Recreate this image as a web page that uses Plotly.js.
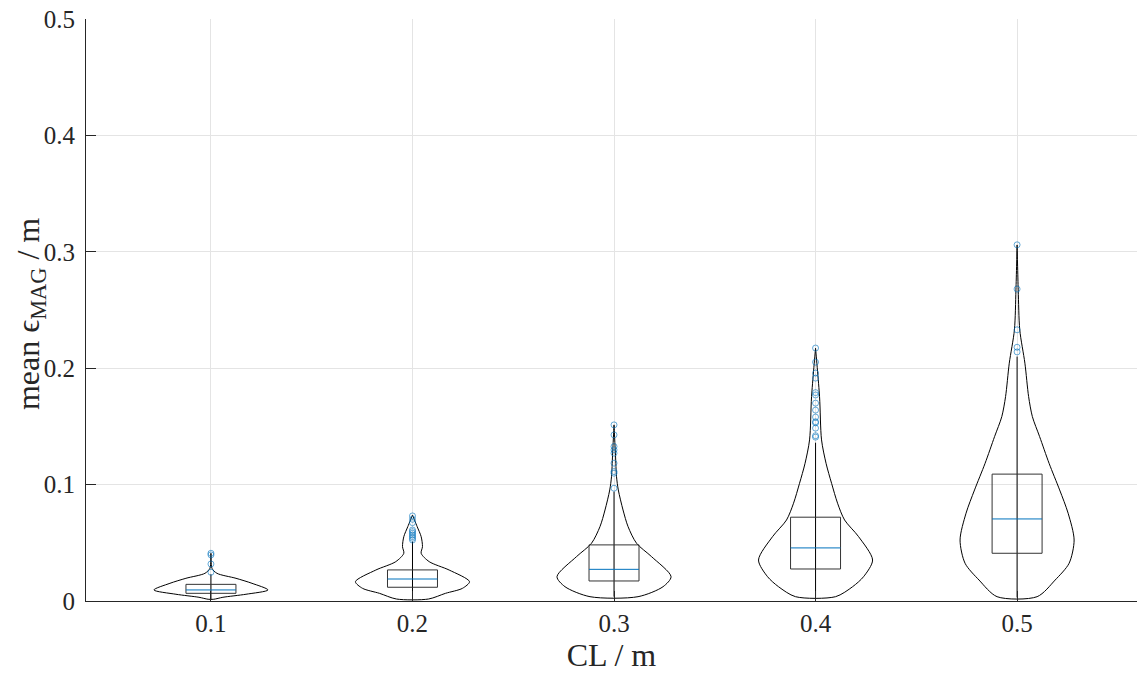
<!DOCTYPE html>
<html>
<head>
<meta charset="utf-8">
<script src="https://cdn.plot.ly/plotly-3.0.1.min.js"></script>
<style>html,body{margin:0;padding:0;background:#fff;}#chart{width:1137px;height:675px;}</style>
</head>
<body>
<div id="chart"></div>
<script>
// ---- data ----
const categories = [0.1, 0.2, 0.3, 0.4, 0.5];
const tickLabelsX = ['0.1', '0.2', '0.3', '0.4', '0.5'];
const yTickVals = [0, 0.1, 0.2, 0.3, 0.4, 0.5];
const yTickLabels = ['0', '0.1', '0.2', '0.3', '0.4', '0.5'];
const xTitle = 'CL / m';
const yTitle = 'mean ϵ<sub>MAG</sub> / m';

// violin outlines: y values (ascending) and relative half-width (1 = widest)
const violin1Y = [0.0015, 0.0032, 0.0058, 0.0095, 0.0152, 0.0195, 0.0238, 0.0281, 0.041];
const violin1W = [0.05, 0.21, 0.614, 1.0, 0.719, 0.439, 0.105, 0.018, 0.0];
const violin2Y = [0.0017, 0.0066, 0.0109, 0.0166, 0.0266, 0.0338, 0.041, 0.0467, 0.0553, 0.0639, 0.0739];
const violin2W = [0.281, 0.579, 0.877, 1.0, 0.643, 0.293, 0.152, 0.175, 0.152, 0.082, 0.0];
const violin3Y = [0.0037, 0.0123, 0.0209, 0.0381, 0.0496, 0.0639, 0.0782, 0.0954, 0.1068, 0.125, 0.1513];
const violin3W = [0.421, 0.86, 1.0, 0.658, 0.395, 0.246, 0.158, 0.075, 0.044, 0.026, 0.0];
const violin4Y = [0.0037, 0.0123, 0.0209, 0.0352, 0.0553, 0.0696, 0.084, 0.1011, 0.1183, 0.1384, 0.1756, 0.2172];
const violin4W = [0.351, 0.65, 0.842, 1.0, 0.754, 0.509, 0.386, 0.281, 0.184, 0.105, 0.07, 0.0];
const violin5Y = [0.0037, 0.018, 0.0324, 0.0524, 0.0754, 0.0954, 0.1183, 0.1412, 0.1584, 0.1756, 0.2043, 0.2329, 0.2673, 0.3059];
const violin5W = [0.351, 0.667, 0.912, 1.0, 0.895, 0.746, 0.561, 0.395, 0.268, 0.202, 0.137, 0.047, 0.02, 0.0];

// box statistics
const boxLow    = [0.0015, 0.0017, 0.0037, 0.0037, 0.0030];
const boxQ1     = [0.0066, 0.0118, 0.0172, 0.0275, 0.0410];
const boxMedian = [0.0095, 0.0189, 0.0272, 0.0456, 0.0705];
const boxQ3     = [0.0143, 0.0267, 0.0482, 0.0720, 0.1090];
const boxHigh   = [0.0230, 0.0510, 0.0940, 0.1360, 0.2100];

// outliers
const outliers1 = [0.041, 0.0396, 0.0318, 0.0247];
const outliers2 = [0.0731, 0.0702, 0.0673, 0.061, 0.0596, 0.0582, 0.0567, 0.0553, 0.0539, 0.0524];
const outliers3 = [0.1513, 0.1427, 0.1327, 0.1298, 0.127, 0.1184, 0.1112, 0.1098, 0.0969];
const outliers4 = [0.2173, 0.2052, 0.1958, 0.1915, 0.179, 0.177, 0.170, 0.164, 0.158, 0.154, 0.153, 0.1485, 0.142, 0.1408];
const outliers5 = [0.306, 0.268, 0.233, 0.218, 0.214];

// ---- styling ----
const VIOLIN_HALF = 0.0283;   // x-units
const BOX_HALF = 0.0124;      // x-units
const FONT = 'Liberation Serif, DejaVu Serif, serif';
const AX = '#262626';

const violinsY = [violin1Y, violin2Y, violin3Y, violin4Y, violin5Y];
const violinsW = [violin1W, violin2W, violin3W, violin4W, violin5W];
const outliers = [outliers1, outliers2, outliers3, outliers4, outliers5];

const traces = [];
categories.forEach((c, i) => {
  const ys = violinsY[i], ws = violinsW[i];
  const px = [], py = [];
  for (let k = 0; k < ys.length; k++) { px.push(c + ws[k] * VIOLIN_HALF); py.push(ys[k]); }
  for (let k = ys.length - 1; k >= 0; k--) { px.push(c - ws[k] * VIOLIN_HALF); py.push(ys[k]); }
  px.push(px[0]); py.push(py[0]);
  traces.push({type: 'scatter', mode: 'lines', x: px, y: py,
    line: {color: '#000000', width: 1, shape: 'spline', smoothing: 0.8},
    hoverinfo: 'skip', showlegend: false});
  traces.push({type: 'scatter', mode: 'lines', x: [c, c], y: [boxLow[i], boxHigh[i]],
    line: {color: '#000000', width: 1}, hoverinfo: 'skip', showlegend: false});
  traces.push({type: 'scatter', mode: 'lines',
    x: [c - BOX_HALF, c + BOX_HALF, c + BOX_HALF, c - BOX_HALF, c - BOX_HALF],
    y: [boxQ1[i], boxQ1[i], boxQ3[i], boxQ3[i], boxQ1[i]],
    line: {color: '#333333', width: 1}, hoverinfo: 'skip', showlegend: false});
  traces.push({type: 'scatter', mode: 'lines',
    x: [c - BOX_HALF, c + BOX_HALF], y: [boxMedian[i], boxMedian[i]],
    line: {color: '#0072BD', width: 1}, hoverinfo: 'skip', showlegend: false});
  traces.push({type: 'scatter', mode: 'markers',
    x: outliers[i].map(() => c), y: outliers[i],
    marker: {symbol: 'circle-open', size: 6, color: 'rgba(0,114,189,0.6)', line: {width: 1}},
    hoverinfo: 'skip', showlegend: false});
});

const layout = {
  width: 1137, height: 675,
  margin: {l: 86, r: 0, t: 19, b: 74, pad: 0},
  paper_bgcolor: '#ffffff', plot_bgcolor: '#ffffff',
  font: {family: FONT, color: AX, size: 25},
  showlegend: false,
  xaxis: {
    range: [0.038, 0.5595],
    tickmode: 'array', tickvals: categories, ticktext: tickLabelsX,
    ticks: 'inside', ticklen: 10, tickwidth: 1, tickcolor: AX,
    showline: true, linecolor: AX, linewidth: 1, mirror: false,
    showgrid: true, gridcolor: '#e4e4e4', gridwidth: 1, zeroline: false,
    tickfont: {family: FONT, size: 25, color: AX},
    ticklabelstandoff: 0,
    title: {text: xTitle, font: {family: FONT, size: 32, color: AX}, standoff: 2},
    automargin: false
  },
  yaxis: {
    range: [0, 0.5],
    tickmode: 'array', tickvals: yTickVals, ticktext: yTickLabels,
    ticks: 'inside', ticklen: 10, tickwidth: 1, tickcolor: AX,
    showline: true, linecolor: AX, linewidth: 1, mirror: false,
    showgrid: true, gridcolor: '#e4e4e4', gridwidth: 1, zeroline: false,
    tickfont: {family: FONT, size: 25, color: AX},
    ticklabelstandoff: 5,
    automargin: false
  },
  annotations: [{
    text: yTitle, xref: 'paper', yref: 'paper', x: -0.0533, y: 0.493,
    xanchor: 'center', yanchor: 'middle', textangle: -90, showarrow: false,
    font: {family: FONT, size: 32, color: AX}
  }]
};

Plotly.newPlot('chart', traces, layout, {staticPlot: true, displayModeBar: false});
</script>
</body>
</html>
